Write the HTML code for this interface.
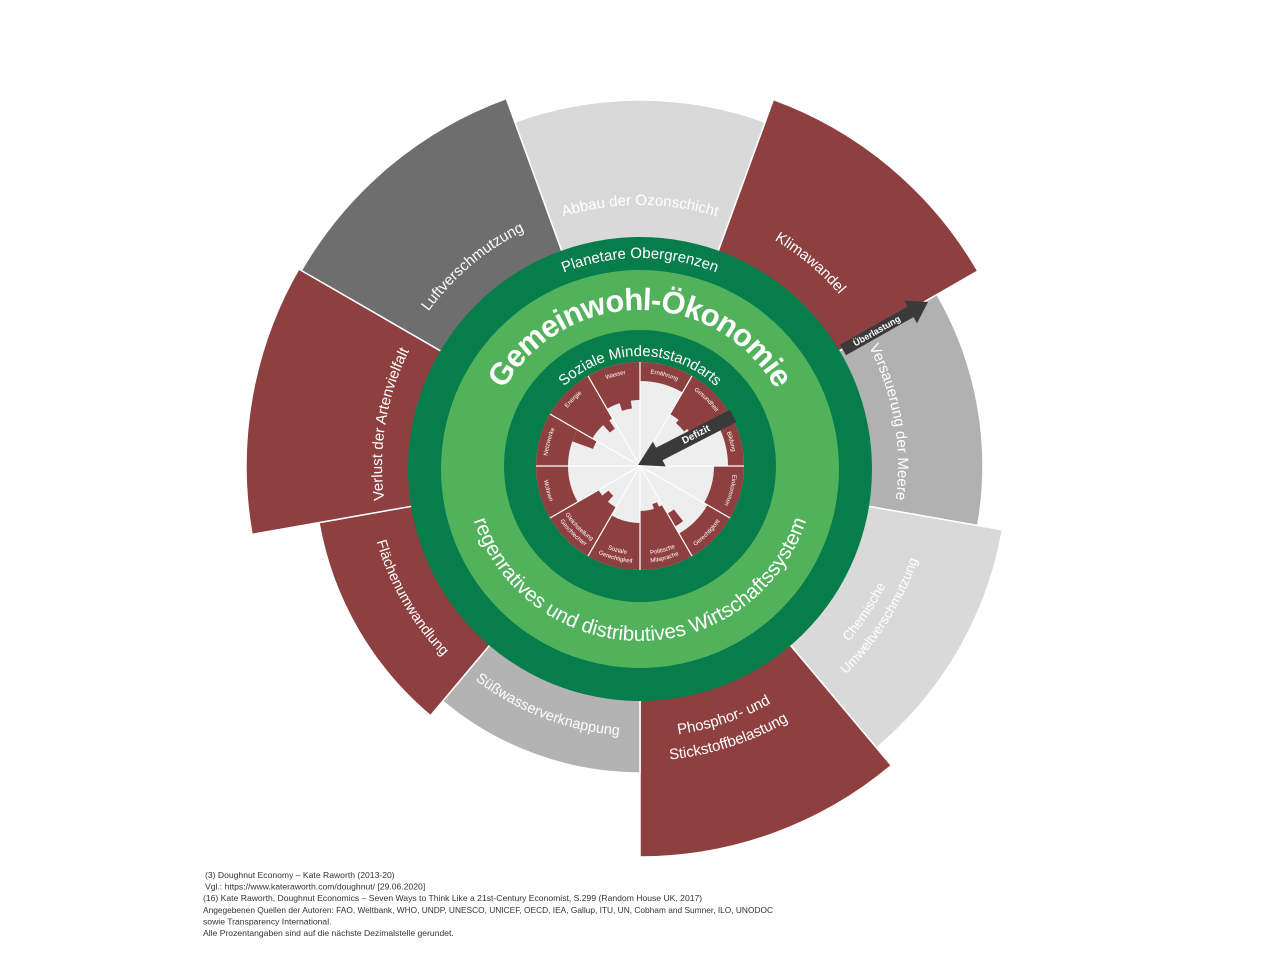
<!DOCTYPE html>
<html><head><meta charset="utf-8"><style>
html,body{margin:0;padding:0;background:#fff;width:1280px;height:960px;overflow:hidden}
svg{display:block}
.fn{font-family:"Liberation Sans",sans-serif;font-size:8.6px;fill:#333}
</style></head><body>
<svg id="s" width="1280" height="960" viewBox="0 0 1280 960" xmlns="http://www.w3.org/2000/svg" font-family="Liberation Sans, sans-serif">
<g id="g"></g>
<text class="fn" x="205" y="878">(3) Doughnut Economy – Kate Raworth (2013-20)</text>
<text class="fn" x="205" y="889.5">Vgl.: https://www.kateraworth.com/doughnut/ [29.06.2020]</text>
<text class="fn" x="203" y="901">(16) Kate Raworth, Doughnut Economics – Seven Ways to Think Like a 21st-Century Economist, S.299 (Random House UK, 2017)</text>
<text class="fn" x="203" y="913" textLength="570" lengthAdjust="spacingAndGlyphs">Angegebenen Quellen der Autoren: FAO, Weltbank, WHO, UNDP, UNESCO, UNICEF, OECD, IEA, Gallup, ITU, UN, Cobham and Sumner, ILO, UNODOC</text>
<text class="fn" x="203" y="924.5">sowie Transparency International.</text>
<text class="fn" x="203" y="936">Alle Prozentangaben sind auf die nächste Dezimalstelle gerundet.</text>
</svg>
<script>
var CX=640,CY=466,out='',defs='',pid=0;
function P(r,a,cx,cy){cx=cx||CX;cy=cy||CY;var t=a*Math.PI/180;return [cx+r*Math.sin(t),cy-r*Math.cos(t)];}
function f(p){return p[0].toFixed(2)+' '+p[1].toFixed(2);}
function wedge(r0,r1,a0,a1,fill,stroke,sw){
 var L=(a1-a0)>180?1:0;var d='M'+f(P(r1,a0))+' A'+r1+' '+r1+' 0 '+L+' 1 '+f(P(r1,a1))+' L'+f(P(r0,a1));
 if(r0>0)d+=' A'+r0+' '+r0+' 0 '+L+' 0 '+f(P(r0,a0));d+=' Z';
 out+='<path d="'+d+'" fill="'+fill+'"'+(stroke?' stroke="'+stroke+'" stroke-width="'+sw+'" stroke-linejoin="miter"':'')+'/>';
}
function arcText(txt,r,ac,span,dir,size,opts){
 opts=opts||{};var a0=ac-span/2,a1=ac+span/2,id='p'+(pid++),d;
 var L=span>180?1:0;
 if(dir>0)d='M'+f(P(r,a0))+' A'+r+' '+r+' 0 '+L+' 1 '+f(P(r,a1));
 else d='M'+f(P(r,a1))+' A'+r+' '+r+' 0 '+L+' 0 '+f(P(r,a0));
 defs+='<path id="'+id+'" d="'+d+'" fill="none"/>';
 out+='<text font-size="'+size+'" fill="'+(opts.fill||'#fff')+'"'+(opts.bold?' font-weight="bold"':'')+'><textPath href="#'+id+'" startOffset="50%" text-anchor="middle"'+(opts.len?' textLength="'+opts.len+'" lengthAdjust="spacing"':'')+'>'+txt+'</textPath></text>';
}
var RED='#8e4040';
var segs=[[-20,20,366,'#d9d9d9'],[20,60,390,RED],[60,100,343,'#b1b1b1'],[100,140,368,'#d9d9d9'],[140,180,391,RED],[180,220,307,'#b3b3b3'],[220,260,326,RED],[260,300,394,RED],[300,340,391,'#6e6e6e']];
segs.forEach(function(s){wedge(225,s[2],s[0],s[1],s[3],'#fff',1.5);});
arcText('Abbau der Ozonschicht',261,0,60,1,15);
arcText('Klimawandel',263,40,40,1,15);
arcText('Luftverschmutzung',262,320,40,1,15);
arcText('Verlust der Artenvielfalt',258,279.5,50,1,15);
arcText('Versauerung der Meere',258,80,50,1,15);
arcText('Chemische',273,123,30,-1,13.5);
arcText('Umweltverschmutzung',293,122,50,-1,13.5);
arcText('Phosphor- und',271,161.5,40,-1,15);
arcText('Stickstoffbelastung',295,162,50,-1,15);
arcText('Süßwasserverknappung',270,201,50,-1,14.5);
arcText('Flächenumwandlung',274,240,50,-1,14.5);
out+='<circle cx="640" cy="469" r="232" fill="#067d4a"/>';
out+='<circle cx="640" cy="469" r="199" fill="#52b25c"/>';
out+='<circle cx="640" cy="466" r="136" fill="#067d4a"/>';
arcText('Planetare Obergrenzen',208,0,60,1,15);
arcText('Gemeinwohl-Ökonomie',156,0,126,1,31,{bold:1,len:330});
arcText('regenratives und distributives Wirtschaftssystem',175,180,170,-1,20.5);
arcText('Soziale Mindeststandarts',110,0,110,1,15);
out+='<circle cx="640" cy="466" r="104" fill="#eeeeee"/>';
var soc=[85,60,88,74,78,45,57,48,72,72,55,66];
for(var i=0;i<12;i++){wedge(soc[i],104,i*30,i*30+30,RED);}
wedge(56,76,40,52,RED);wedge(55,70,142,150,RED);wedge(40,50,155,162,RED);wedge(40,60,222,232,RED);wedge(50,72,290,300,RED);wedge(45,60,318,326,RED);wedge(58,68,342,352,RED);
for(var i=0;i<12;i++){var p=P(104,i*30);out+='<line x1="640" y1="466" x2="'+p[0].toFixed(2)+'" y2="'+p[1].toFixed(2)+'" stroke="#fff" stroke-width="1.2"/>';}
var lab=[['Ernährung'],['Gesundheit'],['Bildung'],['Einkommen'],['Gerechtigkeit'],['Politische','Mitsprache'],['Soziale','Gerechtigkeit'],['Gleichstellung','Geschlechter'],['Wohnen'],['Netzwerke'],['Energie'],['Wasser']];
lab.forEach(function(l,i){var ac=i*30+15;var cw=(ac<120||ac>270);
 if(l.length==1){arcText(l[0],cw?93:97,ac,28,cw?1:-1,6);}
 else{arcText(l[0],cw?96:89,ac,28,cw?1:-1,6);arcText(l[1],cw?88:97,ac,28,cw?1:-1,6);}
});
function arrow(x1,y1,x2,y2,w,hl,hw,txt,fs){
 var dx=x2-x1,dy=y2-y1,L=Math.sqrt(dx*dx+dy*dy),ux=dx/L,uy=dy/L,nx=-uy,ny=ux;
 var bx=x2-ux*hl,by=y2-uy*hl;
 var pts=[[x1+nx*w/2,y1+ny*w/2],[bx+nx*w/2,by+ny*w/2],[bx+nx*hw/2,by+ny*hw/2],[x2,y2],[bx-nx*hw/2,by-ny*hw/2],[bx-nx*w/2,by-ny*w/2],[x1-nx*w/2,y1-ny*w/2]];
 out+='<polygon points="'+pts.map(function(p){return p[0].toFixed(1)+','+p[1].toFixed(1)}).join(' ')+'" fill="#3a3a3a"/>';
 var ang=Math.atan2(dy,dx)*180/Math.PI;var mx=(x1+bx)/2,my=(y1+by)/2;
 if(ang>90||ang<-90)ang+=180;
 out+='<text x="'+mx.toFixed(1)+'" y="'+my.toFixed(1)+'" transform="rotate('+ang.toFixed(1)+' '+mx.toFixed(1)+' '+my.toFixed(1)+')" font-size="'+fs+'" font-weight="bold" fill="#fff" text-anchor="middle" dominant-baseline="central">'+txt+'</text>';
}
arrow(733,416,638,465,14,24,28,'Defizit',10);
arrow(843,350,928,302,12,20,26,'Überlastung',9);
document.getElementById('g').innerHTML='<defs>'+defs+'</defs>'+out;
</script>
</body></html>
